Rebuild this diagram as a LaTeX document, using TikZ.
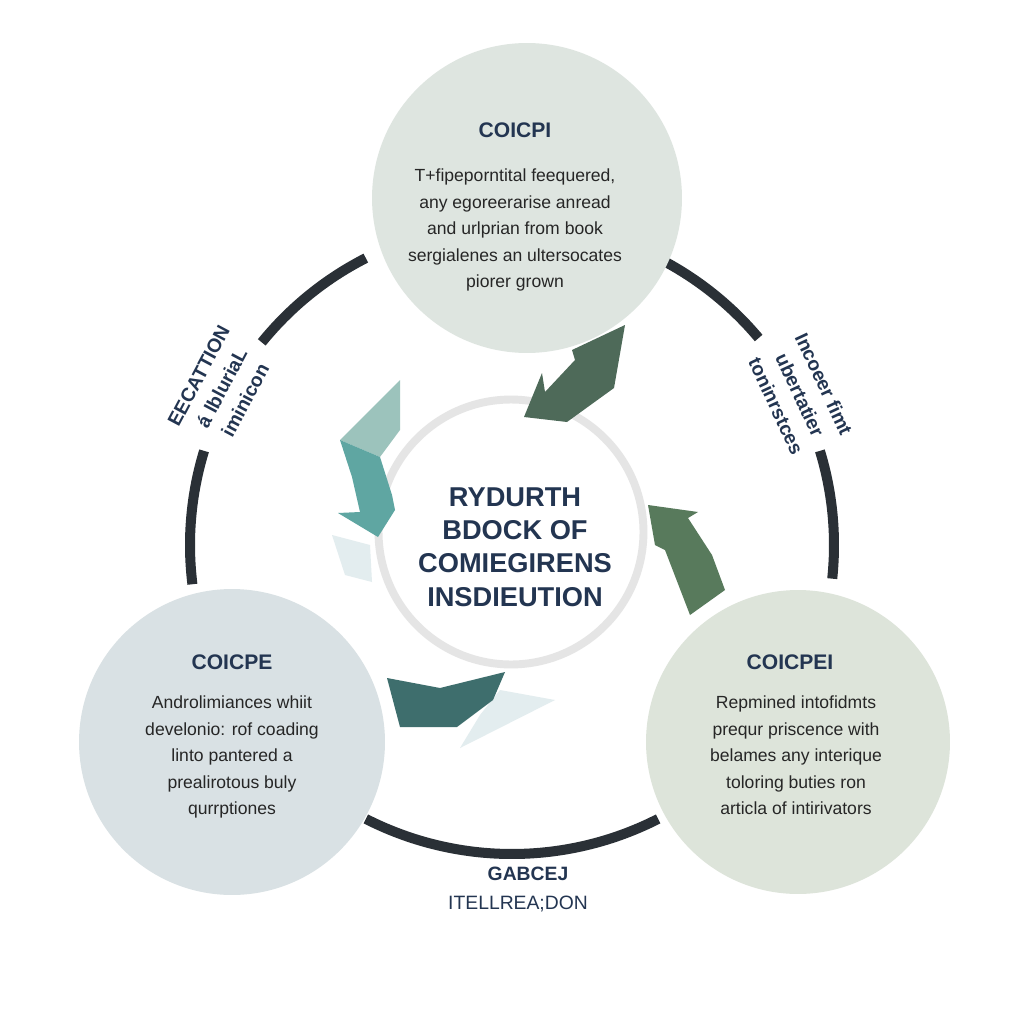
\documentclass[tikz,border=0pt]{standalone}
\usepackage{fontspec}
\setmainfont{Liberation Sans}
\begin{document}
\begin{tikzpicture}[x=0.02cm,y=-0.02cm,
  bub/.style={circle,inner sep=0pt},
  ttl/.style={font=\bfseries\fontsize{12}{14}\selectfont,text=navy},
  body/.style={align=center,font=\fontsize{10}{15}\selectfont,text=black!85},
  side/.style={align=center,font=\bfseries\fontsize{11}{15}\selectfont,text=navy},
  ringline/.style={line width=5.7pt,draw=ringc}]
\definecolor{navy}{HTML}{233551}
\definecolor{ringc}{HTML}{2A3036}
\definecolor{topc}{HTML}{DEE5E0}
\definecolor{blc}{HTML}{D9E1E4}
\definecolor{brc}{HTML}{DDE4DA}
\definecolor{dg}{HTML}{4E6A59}
\definecolor{gr}{HTML}{587A5C}
\definecolor{teal}{HTML}{5FA6A2}
\definecolor{lteal}{HTML}{9CC3BC}
\definecolor{bteal}{HTML}{3E6E6D}
\definecolor{pale}{HTML}{E3EDEF}
\useasboundingbox (0,0) rectangle (1024,1024);
\fill[white] (0,0) rectangle (1024,1024);
% big ring arcs
\draw[ringline] plot[domain=117:141,samples=30] ({512+322*cos(\x)},{545-322*sin(\x)});
\draw[ringline] plot[domain=163:187,samples=30] ({512+322*cos(\x)},{545-322*sin(\x)});
\draw[ringline] plot[domain=40:62,samples=30] ({512+322*cos(\x)},{545-322*sin(\x)});
\draw[ringline] plot[domain=-6:17,samples=30] ({512+322*cos(\x)},{545-322*sin(\x)});
\draw[ringline] plot[domain=243:297,samples=60] ({512+322*cos(\x)},{532-322*sin(\x)});
% bubbles
\node[bub,fill=topc,minimum size=6.2cm] (top) at (527,198) {};
\node[bub,fill=blc,minimum size=6.12cm] (bl) at (232,742) {};
\node[bub,fill=brc,minimum size=6.08cm] (br) at (798,742) {};
\node[bub,draw=black!10,line width=4.5pt,fill=white,minimum size=5.3cm] (mid) at (511,532) {};
% arrows
\fill[dg] (625,325)--(614,388)--(567,422)--(524,417)--(542,373)--(545,392)--(575,360)--(572,350)--cycle;
\fill[lteal] (400,380)--(400,430)--(380,457)--(340,440)--cycle;
\fill[teal] (340,440)--(380,457)--(392,495)--(395,510)--(378,537)--(338,513)--(360,512)--(352,477)--cycle;
\fill[pale] (332,535)--(370,545)--(372,582)--(345,575)--cycle;
\fill[gr] (648,505)--(698,512)--(688,518)--(712,555)--(725,590)--(690,615)--(665,550)--(655,545)--cycle;
\fill[pale] (500,690)--(555,700)--(460,748)--(480,715)--cycle;
\fill[bteal] (387,678)--(440,688)--(505,672)--(493,700)--(457,727)--(400,727)--cycle;
% texts
\node[ttl] (tt) at (515,130) {COICPI};
\node[body,anchor=north] (tb) at (515,163) {T+fipeporntital feequered,\\any egoreerarise anread\\and urlprian from book\\sergialenes an ultersocates\\piorer grown};
\node[align=center,font=\bfseries\fontsize{15.5}{19}\selectfont,text=navy] (mt) at (515,547) {RYDURTH\\BDOCK OF\\COMIEGIRENS\\INSDIEUTION};
\node[ttl] (blt) at (232,662) {COICPE};
\node[body,anchor=north] (blb) at (232,690) {Androlimiances whiit\\develonio: rof coading\\linto pantered a\\prealirotous buly\\qurrptiones};
\node[ttl] (brt) at (790,662) {COICPEI};
\node[body,anchor=north] (brb) at (796,690) {Repmined intofidmts\\prequr priscence with\\belames any interique\\toloring buties ron\\articla of intirivators};
\node[side,rotate=62] (ls) at (222,388) {EECATTION\\á lbluriaL\\iminicon};
\node[side,rotate=-65] (rs) at (800,395) {Incoeer fimt\\ubertatier\\toninrstces};
\node[font=\bfseries\fontsize{11}{12}\selectfont,text=navy] (bs1) at (528,874) {GABCEJ};
\node[font=\fontsize{11}{12}\selectfont,text=navy] (bs2) at (518,904) {ITELLREA;DON};
\end{tikzpicture}
\end{document}
